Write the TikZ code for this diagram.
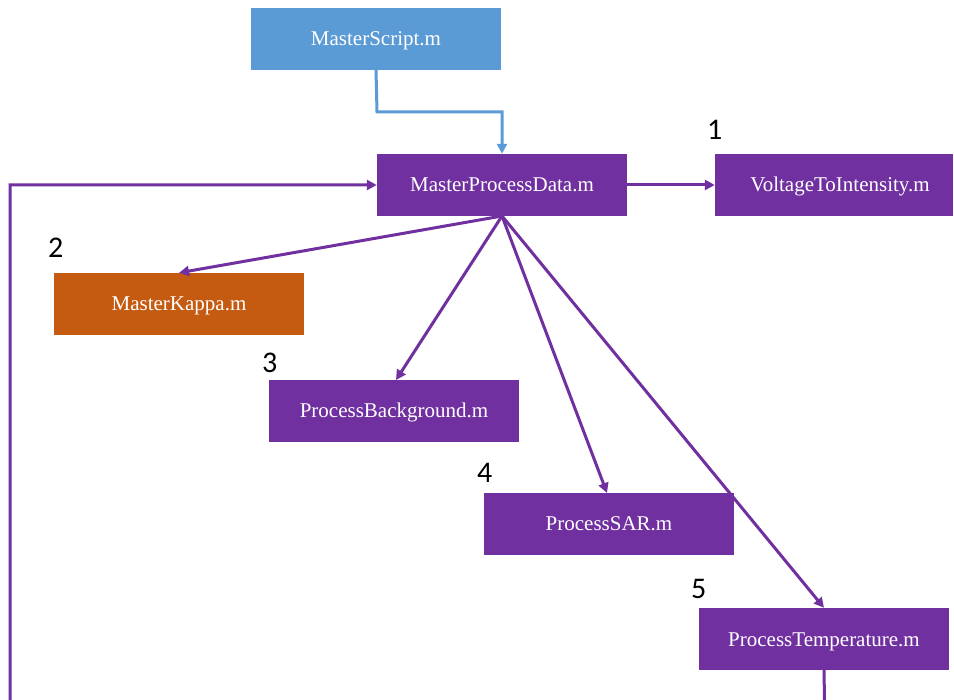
\documentclass[tikz,border=0pt]{standalone}
\usepackage{fontspec}
\setmainfont{Liberation Serif}
\newfontfamily\numfont{Carlito}
\usetikzlibrary{arrows.meta}
\definecolor{cpurple}{HTML}{7030A0}
\definecolor{cblue}{HTML}{5B9BD5}
\definecolor{corange}{HTML}{C55A11}
\begin{document}
\begin{tikzpicture}[x=1pt,y=-1pt,
  box/.style={fill=#1,draw=none,minimum width=250pt,minimum height=62pt,inner sep=0pt,
    text=white,font=\fontsize{21}{25}\selectfont,text height=17pt,text depth=3pt},
  num/.style={font=\numfont\fontsize{30}{34}\selectfont,inner sep=0pt},
  conn/.style={draw=cpurple,line width=3pt,-{Triangle[length=10pt,width=10pt]}},
  bconn/.style={draw=cblue,line width=3pt,-{Triangle[length=10pt,width=10pt]}}]
\useasboundingbox (0,0) rectangle (954,700);
\node[box=cblue] (ms) at (376,39) {MasterScript.m};
\node[box=cpurple] (mpd) at (502,185) {MasterProcessData.m};
\node[box=cpurple,minimum width=238pt] (vti) at (834,185) {\hspace{12pt}VoltageToIntensity.m};
\node[box=corange] (mk) at (179,304) {MasterKappa.m};
\node[box=cpurple] (pb) at (394,411) {ProcessBackground.m};
\node[box=cpurple] (psar) at (609,524) {ProcessSAR.m};
\node[box=cpurple] (pt) at (824,639) {ProcessTemperature.m};
\node[num,anchor=south west] (n1) at (707,140) {1};
\node[num,anchor=south west] (n2) at (48,258) {2};
\node[num,anchor=south west] (n3) at (262,373) {3};
\node[num,anchor=south west] (n4) at (477,483) {4};
\node[num,anchor=south west] (n5) at (691,599) {5};
\coordinate (bend) at (377,112);
\draw[bconn] (ms.south) -- (bend) -| (mpd.north);
\draw[conn] (mpd.east) -- (vti.west);
\coordinate (pm) at (502,216);
\draw[conn] (pm) -- (mk.north);
\draw[conn] (pm) -- (396,380);
\draw[conn] (pm) -- (607,493);
\draw[conn] (pm) -- (pt.north);
\coordinate (lowr) at (825,730);
\coordinate (left) at (10,730);
\draw[conn] (pt.south) -- (lowr) -- (left) |- (mpd.west);
\end{tikzpicture}
\end{document}
